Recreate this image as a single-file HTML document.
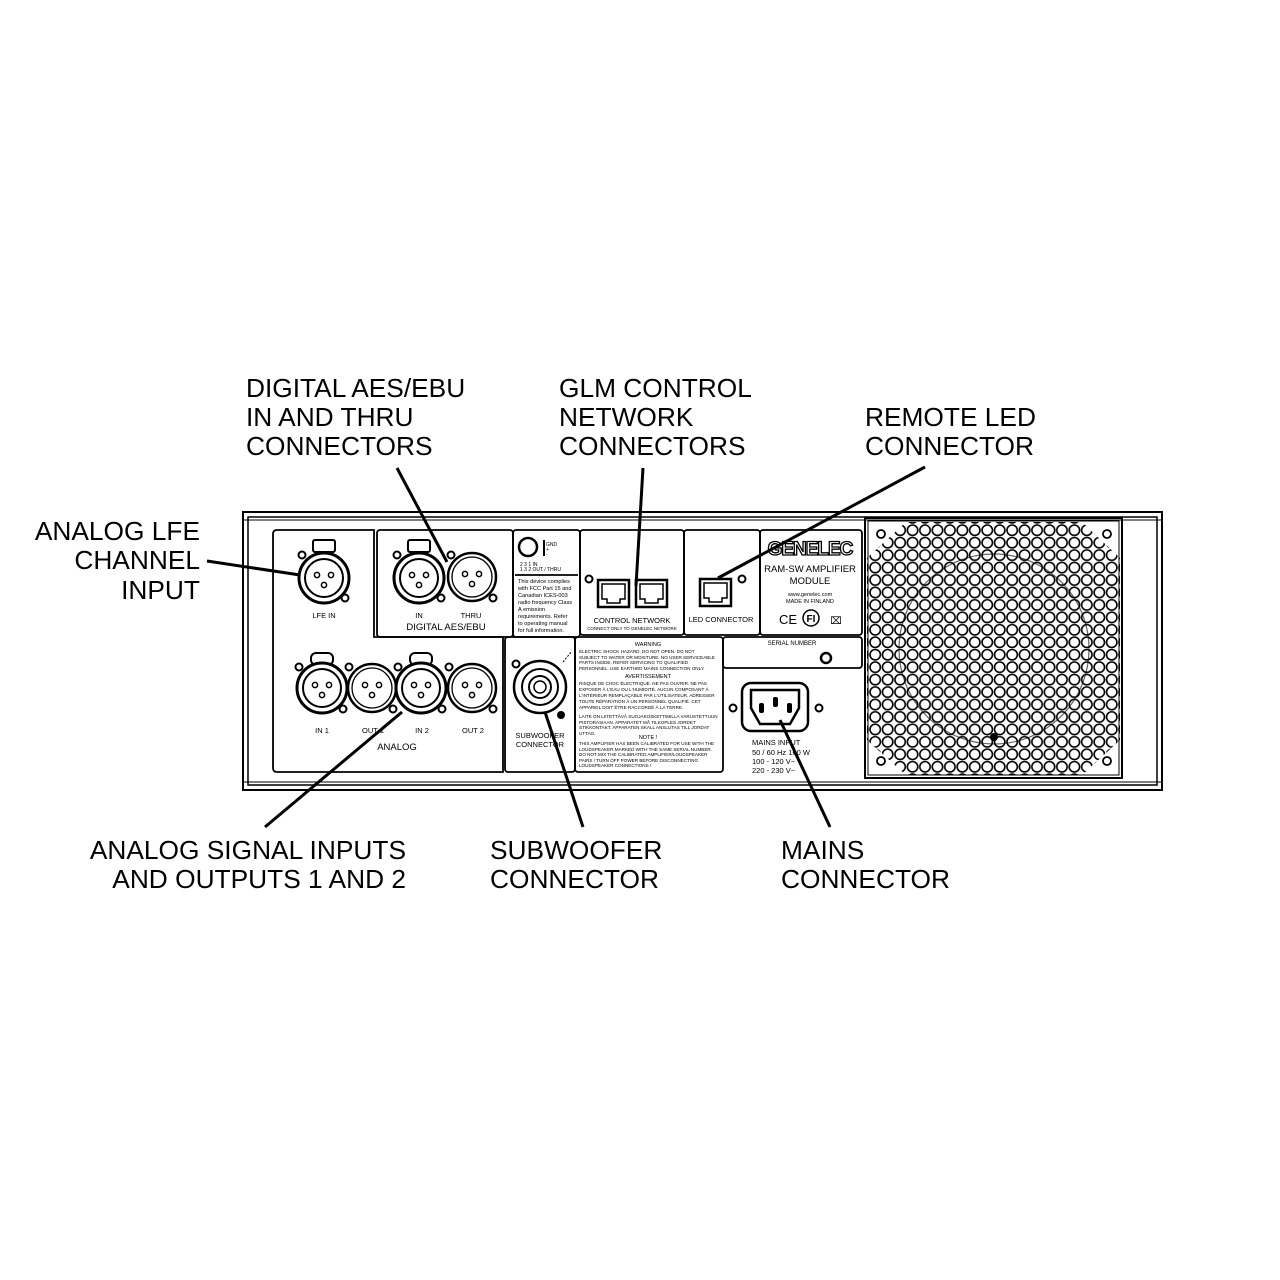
<!DOCTYPE html>
<html><head><meta charset="utf-8"><style>html,body{margin:0;padding:0;background:#fff}svg{display:block}</style></head>
<body>
<svg width="1280" height="1280" viewBox="0 0 1280 1280" xmlns="http://www.w3.org/2000/svg" font-family="Liberation Sans, Arial, sans-serif">
<defs>
<pattern id="holes" x="869" y="524" width="12.45" height="12.45" patternUnits="userSpaceOnUse">
<circle cx="6.2" cy="6.2" r="5.2" fill="none" stroke="#000" stroke-width="1.6"/>
</pattern>
<clipPath id="oct"><polygon points="906,522 1082,522 1120,558 1120,740 1082,775 906,775 867,740 867,558"/></clipPath>
<g id="xlrF">
<circle r="25" fill="#fff" stroke="#000" stroke-width="3"/>
<circle r="19" fill="none" stroke="#000" stroke-width="2"/>
<circle cx="-7" cy="-3" r="2.6" fill="none" stroke="#000" stroke-width="1.5"/>
<circle cx="7" cy="-3" r="2.6" fill="none" stroke="#000" stroke-width="1.5"/>
<circle cx="0" cy="7" r="2.6" fill="none" stroke="#000" stroke-width="1.5"/>
</g>
<g id="xlrM">
<circle r="24" fill="#fff" stroke="#000" stroke-width="2.5"/>
<circle r="20" fill="none" stroke="#000" stroke-width="1.3"/>
<circle cx="-7" cy="-3" r="2.6" fill="none" stroke="#000" stroke-width="1.5"/>
<circle cx="7" cy="-3" r="2.6" fill="none" stroke="#000" stroke-width="1.5"/>
<circle cx="0" cy="7" r="2.6" fill="none" stroke="#000" stroke-width="1.5"/>
</g>
<g id="rj">
<rect x="0" y="0" width="31" height="27" fill="#fff" stroke="#000" stroke-width="2.5"/>
<path d="M4,4 H27 V19 H22 V23 H9 V19 H4 Z" fill="none" stroke="#000" stroke-width="1.5"/>
</g>
<g id="hole"><circle r="3.5" fill="#fff" stroke="#000" stroke-width="2"/></g>
</defs>

<rect x="243" y="512" width="919" height="278" fill="none" stroke="#000" stroke-width="2"/>
<rect x="248" y="517" width="909" height="268" fill="none" stroke="#000" stroke-width="1.5"/>
<line x1="243" y1="520" x2="1162" y2="520" stroke="#000" stroke-width="1"/>
<line x1="243" y1="782" x2="1162" y2="782" stroke="#000" stroke-width="1"/>

<g fill="none" stroke="#000" stroke-width="1.8">
<path d="M277,530 H374 V637 H503 V772 H277 Q273,772 273,768 V534 Q273,530 277,530 Z"/>
<rect x="377" y="530" width="136" height="107" rx="3"/>
<rect x="513" y="530" width="67" height="107" rx="3"/>
<line x1="515" y1="575" x2="578" y2="575"/>
<rect x="580" y="530" width="104" height="105" rx="3"/>
<rect x="684" y="530" width="76" height="105" rx="3"/>
<rect x="760" y="530" width="102" height="105" rx="3"/>
<rect x="505" y="637" width="70" height="135" rx="3"/>
<rect x="575" y="637" width="148" height="135" rx="3"/>
<rect x="723" y="637" width="139" height="31" rx="3"/>
</g>

<rect x="313" y="540" width="22" height="12" rx="2" fill="#fff" stroke="#000" stroke-width="2"/>
<use href="#hole" x="302" y="555"/><use href="#hole" x="345" y="598"/>
<use href="#xlrF" x="324" y="578"/>
<text x="324" y="618" font-size="7.5" text-anchor="middle">LFE IN</text>

<rect x="408" y="540" width="22" height="12" rx="2" fill="#fff" stroke="#000" stroke-width="2"/>
<use href="#hole" x="397" y="555"/><use href="#hole" x="441" y="598"/>
<use href="#hole" x="451" y="555"/><use href="#hole" x="493" y="598"/>
<use href="#xlrF" x="419" y="578"/>
<use href="#xlrM" x="472" y="577"/>
<text x="419" y="618" font-size="7.5" text-anchor="middle">IN</text>
<text x="471" y="618" font-size="7.5" text-anchor="middle">THRU</text>
<text x="446" y="630" font-size="9.5" text-anchor="middle">DIGITAL  AES/EBU</text>

<circle cx="528" cy="547" r="9" fill="none" stroke="#000" stroke-width="2.5"/>
<line x1="544" y1="540" x2="544" y2="556" stroke="#000" stroke-width="2"/>
<text font-size="5" x="546" y="546">GND</text><text font-size="5" x="546" y="551">+</text><text font-size="5" x="546" y="556">-</text>
<text font-size="5" x="520" y="566">2  3  1    IN</text>
<text font-size="5" x="520" y="571">1  3  2   OUT / THRU</text>
<g font-size="5.6">
<text x="518" y="583">This device complies</text>
<text x="518" y="590">with FCC Part 15 and</text>
<text x="518" y="597">Canadian ICES-003</text>
<text x="518" y="604">radio frequency Class</text>
<text x="518" y="611">A emission</text>
<text x="518" y="618">requirements. Refer</text>
<text x="518" y="625">to operating manual</text>
<text x="518" y="632">for full information.</text>
</g>

<use href="#hole" x="589" y="579"/>
<use href="#rj" x="598" y="580"/><use href="#rj" x="636" y="580"/>
<text x="632" y="623" font-size="7.5" text-anchor="middle">CONTROL NETWORK</text>
<text x="632" y="630" font-size="4.5" text-anchor="middle">CONNECT ONLY TO GENELEC NETWORK</text>

<use href="#rj" x="700" y="579"/><use href="#hole" x="742" y="579"/>
<text x="721" y="622" font-size="7.5" text-anchor="middle">LED CONNECTOR</text>

<text x="810" y="555" font-size="19" font-weight="bold" text-anchor="middle" fill="#fff" stroke="#000" stroke-width="1.3" letter-spacing="-1">GENELEC</text>
<text x="810" y="572" font-size="9.5" text-anchor="middle">RAM-SW  AMPLIFIER</text>
<text x="810" y="584" font-size="9.5" text-anchor="middle">MODULE</text>
<text x="810" y="596" font-size="5.5" text-anchor="middle">www.genelec.com</text>
<text x="810" y="603" font-size="5.5" text-anchor="middle">MADE IN FINLAND</text>
<text x="788" y="624" font-size="13" text-anchor="middle">CE</text>
<circle cx="811" cy="618" r="8" fill="none" stroke="#000" stroke-width="1.5"/>
<text x="811" y="622" font-size="10" font-weight="bold" text-anchor="middle">FI</text>
<text x="836" y="624" font-size="10" text-anchor="middle">⌧</text>

<text x="792" y="645" font-size="6" text-anchor="middle">SERIAL NUMBER</text>
<circle cx="826" cy="658" r="5" fill="#fff" stroke="#000" stroke-width="2.5"/>

<rect x="311" y="653" width="22" height="12" rx="5" fill="#fff" stroke="#000" stroke-width="2"/>
<rect x="410" y="653" width="22" height="12" rx="5" fill="#fff" stroke="#000" stroke-width="2"/>
<g>
<use href="#hole" x="299" y="667"/><use href="#hole" x="343" y="709"/>
<use href="#hole" x="349" y="667"/><use href="#hole" x="393" y="709"/>
<use href="#hole" x="398" y="667"/><use href="#hole" x="442" y="709"/>
<use href="#hole" x="449" y="667"/><use href="#hole" x="493" y="709"/>
</g>
<use href="#xlrF" x="322" y="688"/>
<use href="#xlrM" x="372" y="688"/>
<use href="#xlrF" x="421" y="688"/>
<use href="#xlrM" x="472" y="688"/>
<g font-size="7.5" text-anchor="middle">
<text x="322" y="733">IN 1</text><text x="373" y="733">OUT 1</text>
<text x="422" y="733">IN 2</text><text x="473" y="733">OUT 2</text>
</g>
<text x="397" y="750" font-size="9.5" text-anchor="middle">ANALOG</text>

<use href="#hole" x="516" y="664"/>
<circle cx="561" cy="715" r="4" fill="#000"/>
<circle cx="540" cy="687" r="26" fill="#fff" stroke="#000" stroke-width="2.5"/>
<circle cx="540" cy="687" r="18" fill="none" stroke="#000" stroke-width="2"/>
<circle cx="540" cy="687" r="11" fill="none" stroke="#000" stroke-width="2"/>
<circle cx="540" cy="687" r="6" fill="none" stroke="#000" stroke-width="1.5"/>
<line x1="563" y1="662" x2="572" y2="651" stroke="#000" stroke-width="1" stroke-dasharray="2,1.5"/>
<text x="540" y="738" font-size="7.5" text-anchor="middle">SUBWOOFER</text>
<text x="540" y="747" font-size="7.5" text-anchor="middle">CONNECTOR</text>

<g font-size="4.6">
<text x="648" y="646" text-anchor="middle" font-size="5.5">WARNING</text>
<text x="579" y="653">ELECTRIC SHOCK HAZARD. DO NOT OPEN. DO NOT</text>
<text x="579" y="659">SUBJECT TO WATER OR MOISTURE. NO USER SERVICEABLE</text>
<text x="579" y="664">PARTS INSIDE. REFER SERVICING TO QUALIFIED</text>
<text x="579" y="670">PERSONNEL. USE  EARTHED MAINS CONNECTION ONLY.</text>
<text x="648" y="678" text-anchor="middle" font-size="5.5">AVERTISSEMENT</text>
<text x="579" y="685">RISQUE DE CHOC ÉLECTRIQUE. NE PAS OUVRIR. NE PAS</text>
<text x="579" y="691">EXPOSER À L'EAU OU L'HUMIDITÉ. AUCUN COMPOSANT À</text>
<text x="579" y="697">L'INTÉRIEUR REMPLAÇABLE PAR L'UTILISATEUR. ADRESSER</text>
<text x="579" y="703">TOUTE RÉPARATION À UN PERSONNEL QUALIFIÉ. CET</text>
<text x="579" y="709">APPAREIL DOIT ÊTRE RACCORDÉ À LA TERRE.</text>
<text x="579" y="718">LAITE ON LIITETTÄVÄ SUOJAKOSKETTIMILLA VARUSTETTUUN</text>
<text x="579" y="724">PISTORASIAAN. APPARATET MÅ TILKOPLES JORDET</text>
<text x="579" y="729">STIKKONTAKT. APPARATEN SKALL ANSLUTAS TILL JORDAT</text>
<text x="579" y="735">UTTAG.</text>
<text x="648" y="739" text-anchor="middle" font-size="5.5">NOTE !</text>
<text x="579" y="745">THIS AMPLIFIER HAS BEEN CALIBRATED FOR USE WITH THE</text>
<text x="579" y="751">LOUDSPEAKER MARKED WITH THE SAME SERIAL NUMBER.</text>
<text x="579" y="756">DO NOT MIX THE CALIBRATED AMPLIFIER/LOUDSPEAKER</text>
<text x="579" y="762">PAIRS ! TURN OFF POWER BEFORE DISCONNECTING</text>
<text x="579" y="767">LOUDSPEAKER CONNECTIONS !</text>
</g>

<use href="#hole" x="733" y="708"/><use href="#hole" x="819" y="708"/>
<rect x="742" y="683" width="66" height="48" rx="9" fill="#fff" stroke="#000" stroke-width="2.5"/>
<path d="M751,690 H799 V708 L790,724 H760 L751,708 Z" fill="none" stroke="#000" stroke-width="2.5"/>
<rect x="759" y="703" width="5" height="10" rx="2" fill="#000"/>
<rect x="773" y="697" width="5" height="10" rx="2" fill="#000"/>
<rect x="787" y="703" width="5" height="10" rx="2" fill="#000"/>
<g font-size="7.5">
<text x="752" y="745">MAINS INPUT</text>
<text x="752" y="755">50 / 60 Hz  100 W</text>
<text x="752" y="764">100 - 120 V~</text>
<text x="752" y="773">220 - 230 V~</text>
</g>

<rect x="865" y="518" width="257" height="260" fill="none" stroke="#000" stroke-width="2"/>
<rect x="868" y="521" width="251" height="254" fill="none" stroke="#000" stroke-width="1"/>
<line x1="1122" y1="518" x2="1122" y2="778" stroke="#000" stroke-width="2"/>
<rect x="866" y="520" width="256" height="258" fill="url(#holes)" clip-path="url(#oct)"/>
<circle cx="881" cy="534" r="4" fill="none" stroke="#000" stroke-width="1.8"/>
<circle cx="1107" cy="534" r="4" fill="none" stroke="#000" stroke-width="1.8"/>
<circle cx="881" cy="761" r="4" fill="none" stroke="#000" stroke-width="1.8"/>
<circle cx="1107" cy="761" r="4" fill="none" stroke="#000" stroke-width="1.8"/>
<circle cx="994" cy="649" r="95" fill="none" stroke="#000" stroke-width="1.2" opacity="0.6"/>
<circle cx="994" cy="737" r="4" fill="#000"/>

<g stroke="#000" stroke-width="3" stroke-linecap="butt">
<line x1="397" y1="468" x2="447" y2="562"/>
<line x1="643" y1="468" x2="636" y2="586"/>
<line x1="925" y1="467" x2="718" y2="578"/>
<line x1="207" y1="561" x2="300" y2="575"/>
<line x1="265" y1="827" x2="402" y2="712"/>
<line x1="583" y1="827" x2="545" y2="712"/>
<line x1="830" y1="827" x2="780" y2="720"/>
</g>

<g font-size="26.3" fill="#000">
<text x="246" y="397">DIGITAL AES/EBU</text>
<text x="246" y="426">IN AND THRU</text>
<text x="246" y="455">CONNECTORS</text>
<text x="559" y="397">GLM CONTROL</text>
<text x="559" y="426">NETWORK</text>
<text x="559" y="455">CONNECTORS</text>
<text x="865" y="426">REMOTE LED</text>
<text x="865" y="455">CONNECTOR</text>
<text x="200" y="540" text-anchor="end">ANALOG LFE</text>
<text x="200" y="569" text-anchor="end">CHANNEL</text>
<text x="200" y="599" text-anchor="end">INPUT</text>
<text x="406" y="859" text-anchor="end">ANALOG SIGNAL INPUTS</text>
<text x="406" y="888" text-anchor="end">AND OUTPUTS 1 AND 2</text>
<text x="490" y="859">SUBWOOFER</text>
<text x="490" y="888">CONNECTOR</text>
<text x="781" y="859">MAINS</text>
<text x="781" y="888">CONNECTOR</text>
</g>
</svg>
</body></html>
